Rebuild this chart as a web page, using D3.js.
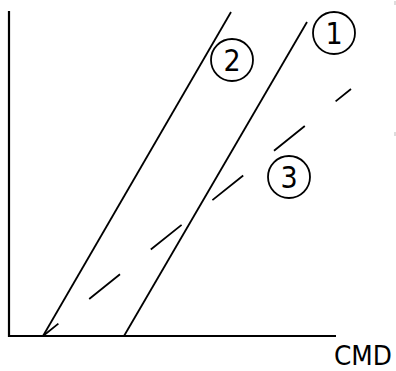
<!DOCTYPE html>
<html>
<head>
<meta charset="utf-8">
<script src="https://cdn.jsdelivr.net/npm/d3@7"></script>
<style>
  html, body { margin: 0; padding: 0; background: #fff; }
  svg { display: block; }
</style>
</head>
<body>
<svg id="chart" width="396" height="371"></svg>
<script>
// ---- data (schematic units) ----
const seriesNames = ["1", "2", "3"];
const series1 = [[115, 0], [298, 314]];
const series2 = [[34, 0], [222, 324]];
const series3 = [[34, 0], [342, 247]];
const labelPositions = [[325, 303], [223, 276], [280, 159]]; // circle centres for 1,2,3
const xAxisLabel = "CMD";
const xAxisExtent = [0, 327];
const yAxisExtent = [0, 325];

const svg = d3.select("#chart");
const x = d3.scaleLinear().domain([0, 380]).range([9, 389]);
const y = d3.scaleLinear().domain([0, 325]).range([336, 11]);
const line = d3.line().x(d => x(d[0])).y(d => y(d[1]));

// axes
svg.append("path")
  .attr("d", line([[xAxisExtent[0], yAxisExtent[1]], [xAxisExtent[0], 0], [xAxisExtent[1], 0]]))
  .attr("fill", "none").attr("stroke", "#000").attr("stroke-width", 2.2)
  .attr("stroke-linejoin", "miter");

// solid lines
[series1, series2].forEach(s => {
  svg.append("path").attr("d", line(s))
    .attr("fill", "none").attr("stroke", "#000").attr("stroke-width", 1.8);
});

// dashed line
const dashed = svg.append("path").attr("d", line(series3))
  .attr("fill", "none").attr("stroke", "#000").attr("stroke-width", 1.8);
const L = dashed.node().getTotalLength();
dashed.attr("stroke-dasharray", `${L / 10} ${L / 10}`)
      .attr("stroke-dashoffset", L / 20);

// circled labels
seriesNames.forEach((n, i) => {
  const [cx, cy] = labelPositions[i];
  const g = svg.append("g").attr("transform", `translate(${x(cx)},${y(cy)})`);
  g.append("circle").attr("r", 21).attr("fill", "none")
    .attr("stroke", "#000").attr("stroke-width", 1.8);
  g.append("text").text(n)
    .attr("text-anchor", "middle").attr("dy", "0.36em")
    .attr("font-family", "DejaVu Sans Condensed, DejaVu Sans, sans-serif")
    .attr("font-size", 30).attr("fill", "#000");
});

// axis label
svg.append("text").text(xAxisLabel)
  .attr("x", 334).attr("y", 364.5)
  .attr("textLength", 58).attr("lengthAdjust", "spacingAndGlyphs")
  .attr("font-family", "DejaVu Sans Condensed, DejaVu Sans, sans-serif")
  .attr("font-size", 26.5).attr("fill", "#000");

// faint edge marks
[[1, 5], [132, 136]].forEach(([a, b]) => {
  svg.append("line").attr("x1", 395).attr("x2", 395).attr("y1", a).attr("y2", b)
    .attr("stroke", "#bbb").attr("stroke-width", 1);
});
</script>
</body>
</html>
